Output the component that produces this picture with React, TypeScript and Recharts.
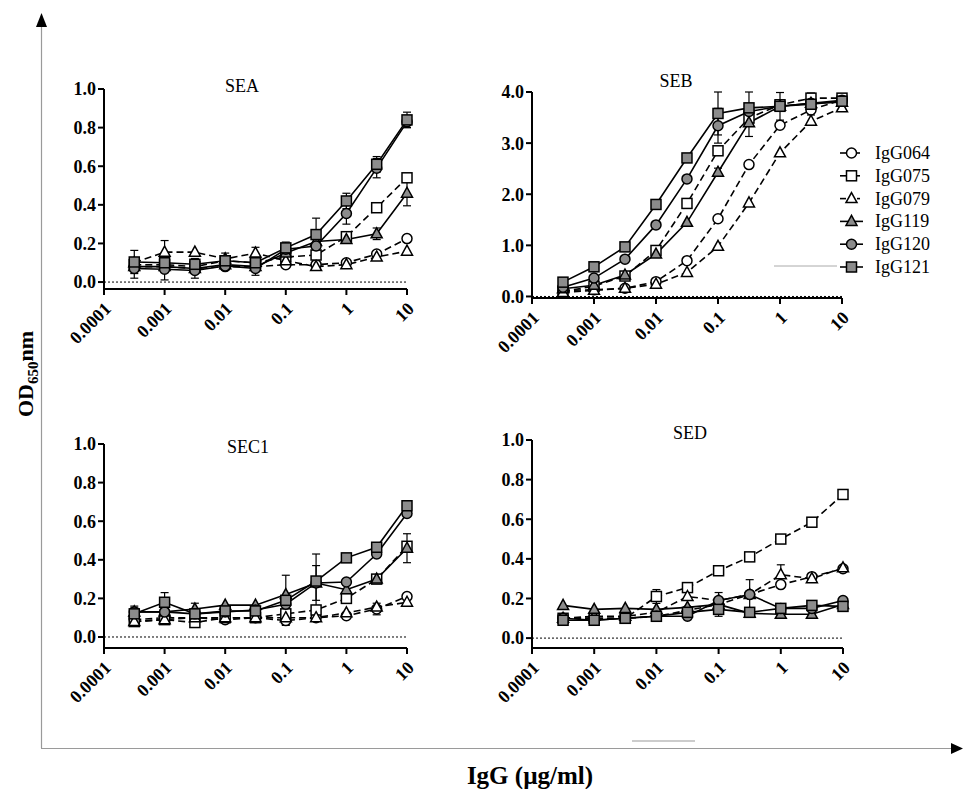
import { LineChart, Line, XAxis, YAxis, ReferenceLine, ErrorBar } from "recharts"

const FONT = '"Liberation Serif", "Times New Roman", serif'
const GREY = "#8c8c8c"

// concentrations in µg/ml, half-log dilution series
const DOSES = [0.000316, 0.001, 0.00316, 0.01, 0.0316, 0.1, 0.316, 1, 3.16, 10]
const X_TICKS = [0.0001, 0.001, 0.01, 0.1, 1, 10]
const Y_TICKS_SMALL = [0, 0.2, 0.4, 0.6, 0.8, 1.0]
const Y_TICKS_SEB = [0, 1, 2, 3, 4]

const SERIES = ["IgG064", "IgG075", "IgG079", "IgG119", "IgG120", "IgG121"]
const SHAPES = ["circle", "square", "triangle", "triangle", "circle", "square"]
const FILLED = [false, false, false, true, true, true]

// rows follow SERIES order
const SEA_VALUES = [
  [0.08, 0.08, 0.07, 0.08, 0.08, 0.09, 0.09, 0.1, 0.145, 0.225],
  [0.09, 0.09, 0.08, 0.11, 0.1, 0.13, 0.14, 0.235, 0.385, 0.54],
  [0.1, 0.155, 0.155, 0.12, 0.15, 0.11, 0.08, 0.09, 0.13, 0.16],
  [0.08, 0.08, 0.07, 0.09, 0.08, 0.15, 0.21, 0.22, 0.25, 0.46],
  [0.07, 0.066, 0.06, 0.083, 0.07, 0.17, 0.187, 0.355, 0.59, 0.83],
  [0.104, 0.1, 0.092, 0.11, 0.1, 0.177, 0.246, 0.42, 0.61, 0.84],
]
const SEA_ERRORS = [
  [0, 0, 0, 0, 0, 0, 0, 0, 0.01, 0.01],
  [0.03, 0, 0, 0, 0, 0, 0, 0, 0, 0.015],
  [0, 0.06, 0, 0, 0.03, 0, 0, 0, 0, 0],
  [0, 0, 0, 0, 0, 0, 0, 0, 0.03, 0.065],
  [0.05, 0.055, 0.04, 0.02, 0.035, 0, 0.08, 0.055, 0.05, 0.03],
  [0.06, 0, 0.03, 0.04, 0, 0.03, 0.085, 0.04, 0.04, 0.04],
]

const SEB_VALUES = [
  [0.12, 0.13, 0.16, 0.29, 0.7, 1.52, 2.58, 3.35, 3.65, 3.85],
  [0.1, 0.2, 0.4, 0.9, 1.82, 2.85, 3.49, 3.75, 3.88, 3.88],
  [0.08, 0.12, 0.16, 0.24, 0.47, 0.98, 1.83, 2.81, 3.43, 3.69],
  [0.15, 0.22, 0.42, 0.83, 1.45, 2.43, 3.4, 3.72, 3.78, 3.8],
  [0.18, 0.36, 0.73, 1.4, 2.3, 3.34, 3.62, 3.72, 3.78, 3.84],
  [0.28, 0.58, 0.97, 1.8, 2.71, 3.58, 3.69, 3.72, 3.76, 3.82],
]
const SEB_ERRORS = [
  [0, 0, 0, 0, 0, 0, 0, 0, 0.1, 0],
  [0, 0, 0, 0, 0, 0, 0.1, 0, 0.1, 0],
  [0, 0, 0, 0, 0, 0, 0, 0, 0, 0],
  [0, 0, 0, 0, 0, 0.08, 0.27, 0, 0, 0],
  [0, 0, 0, 0, 0, 0.34, 0, 0, 0, 0],
  [0, 0, 0, 0, 0, 0.42, 0.31, 0.27, 0.08, 0.06],
]

const SEC1_VALUES = [
  [0.09, 0.1, 0.1, 0.09, 0.1, 0.085, 0.1, 0.11, 0.145, 0.21],
  [0.08, 0.09, 0.075, 0.1, 0.1, 0.12, 0.14, 0.2, 0.3, 0.47],
  [0.08, 0.09, 0.1, 0.1, 0.1, 0.1, 0.1, 0.125, 0.155, 0.18],
  [0.13, 0.13, 0.145, 0.165, 0.165, 0.22, 0.28, 0.245, 0.3, 0.46],
  [0.13, 0.13, 0.12, 0.13, 0.14, 0.17, 0.28, 0.285, 0.43, 0.64],
  [0.12, 0.18, 0.12, 0.135, 0.135, 0.19, 0.29, 0.41, 0.465, 0.68],
]
const SEC1_ERRORS = [
  [0, 0, 0, 0, 0, 0, 0, 0, 0.03, 0],
  [0, 0, 0, 0, 0, 0, 0, 0, 0, 0],
  [0, 0, 0, 0, 0, 0, 0, 0, 0, 0],
  [0, 0, 0.03, 0, 0, 0, 0, 0, 0, 0.075],
  [0.03, 0, 0, 0, 0, 0, 0.09, 0, 0, 0],
  [0.03, 0.05, 0, 0, 0, 0.13, 0.14, 0, 0, 0],
]

const SED_VALUES = [
  [0.1, 0.1, 0.1, 0.11, 0.14, 0.17, 0.22, 0.27, 0.31, 0.35],
  [0.1, 0.1, 0.1, 0.21, 0.255, 0.34, 0.41, 0.5, 0.585, 0.725],
  [0.1, 0.11, 0.11, 0.13, 0.21, 0.19, 0.22, 0.32, 0.3, 0.355],
  [0.165, 0.145, 0.15, 0.145, 0.155, 0.17, 0.125, 0.12, 0.12, 0.17],
  [0.1, 0.09, 0.1, 0.11, 0.11, 0.19, 0.22, 0.15, 0.15, 0.19],
  [0.09, 0.09, 0.1, 0.11, 0.13, 0.145, 0.13, 0.15, 0.165, 0.16],
]
const SED_ERRORS = [
  [0, 0, 0, 0, 0, 0, 0, 0, 0, 0],
  [0, 0, 0, 0.035, 0, 0, 0, 0, 0, 0],
  [0, 0, 0, 0, 0, 0, 0, 0.05, 0, 0],
  [0, 0, 0, 0, 0, 0, 0, 0, 0, 0],
  [0, 0, 0, 0, 0, 0.04, 0.075, 0, 0, 0],
  [0, 0, 0, 0, 0, 0.035, 0, 0, 0, 0],
]

const AXIS_W = 80
const AXIS_H = 75
const PAD_TOP = 40

// box = plot area [left, right, top, bottom] in page pixels
const PANELS = [
  { title: "SEA", values: SEA_VALUES, errors: SEA_ERRORS, yMin: -0.036, yMax: 1, ticks: Y_TICKS_SMALL, box: [104, 407, 89, 289], titleAt: [242, 92] },
  { title: "SEB", values: SEB_VALUES, errors: SEB_ERRORS, yMin: -0.03, yMax: 4, ticks: Y_TICKS_SEB, box: [532, 842, 92, 298], titleAt: [676, 87] },
  { title: "SEC1", values: SEC1_VALUES, errors: SEC1_ERRORS, yMin: -0.057, yMax: 1, ticks: Y_TICKS_SMALL, box: [104, 407, 444, 648], titleAt: [248, 453] },
  { title: "SED", values: SED_VALUES, errors: SED_ERRORS, yMin: -0.05, yMax: 1, ticks: Y_TICKS_SMALL, box: [532, 843, 440, 648], titleAt: [690, 439] },
]

function Marker({ cx, cy, shape, filled }: any) {
  const common = { fill: filled ? GREY : "#fff", stroke: "#000", strokeWidth: 1.5 }
  if (shape === "square") return <rect x={cx - 5} y={cy - 5} width={10} height={10} {...common} />
  if (shape === "triangle")
    return <polygon points={`${cx},${cy - 6} ${cx + 5.5},${cy + 4} ${cx - 5.5},${cy + 4}`} {...common} />
  return <circle cx={cx} cy={cy} r={5} {...common} />
}

function XTick({ x, y, payload }: any) {
  return (
    <text
      transform={`translate(${x + 8},${y + 13}) rotate(-45)`}
      textAnchor="end"
      fontFamily={FONT}
      fontWeight="bold"
      fontSize={18}
      fill="#000"
    >
      {String(payload.value)}
    </text>
  )
}

function Panel({ p }: any) {
  const [x0, x1, y0, y1] = p.box
  const left = x0 - AXIS_W
  const top = y0 - PAD_TOP
  const width = x1 + 20 - left
  const height = y1 - top + AXIS_H
  const rows = DOSES.map((d, i) => {
    const r: any = { dose: d }
    SERIES.forEach((_, s) => {
      r["v" + s] = p.values[s][i]
      r["e" + s] = p.errors[s][i]
    })
    return r
  })

  return (
    <div style={{ position: "absolute", left, top }}>
      <LineChart width={width} height={height} data={rows} margin={{ top: PAD_TOP, right: 20, bottom: 0, left: 0 }}>
        <XAxis
          dataKey="dose"
          type="number"
          scale="log"
          domain={[0.0001, 10]}
          ticks={X_TICKS}
          interval={0}
          height={AXIS_H}
          tick={<XTick />}
          tickSize={6}
          axisLine={{ stroke: "#000", strokeWidth: 2 }}
          tickLine={{ stroke: "#000", strokeWidth: 2 }}
        />
        <YAxis
          type="number"
          domain={[p.yMin, p.yMax]}
          ticks={p.ticks}
          allowDataOverflow
          width={AXIS_W}
          tickSize={6}
          tickFormatter={(v: number) => v.toFixed(1)}
          axisLine={{ stroke: "#000", strokeWidth: 2 }}
          tickLine={{ stroke: "#000", strokeWidth: 2 }}
          tick={{ fill: "#000", fontFamily: FONT, fontWeight: "bold", fontSize: 18 }}
        />
        <ReferenceLine y={0} stroke="#000" strokeWidth={1} strokeDasharray="2 2" />
        {SERIES.map((name, s) => (
          <Line
            key={name}
            dataKey={"v" + s}
            name={name}
            stroke="#000"
            strokeWidth={1.6}
            strokeDasharray={FILLED[s] ? undefined : "7 4"}
            isAnimationActive={false}
            activeDot={false}
            dot={(d: any) => (
              <Marker key={name + d.index} cx={d.cx} cy={d.cy} shape={SHAPES[s]} filled={FILLED[s]} />
            )}
          >
            <ErrorBar dataKey={"e" + s} width={4} stroke="#000" strokeWidth={1.2} direction="y" />
          </Line>
        ))}
      </LineChart>
    </div>
  )
}

function Overlay() {
  return (
    <svg width={963} height={789} style={{ position: "absolute", left: 0, top: 0 }}>
      {/* outer frame axes */}
      <line x1={41.5} y1={26} x2={41.5} y2={748} stroke="#9a9a9a" strokeWidth={1.2} />
      <polygon points="41.5,13 36,27 47,27" fill="#000" />
      <line x1={41} y1={748.5} x2={953} y2={748.5} stroke="#9a9a9a" strokeWidth={1.2} />
      <polygon points="963,748.5 951,743 951,754" fill="#000" />
      <line x1={774} y1={266} x2={837} y2={266} stroke="#aaa" strokeWidth={1} />
      <line x1={632} y1={741} x2={695} y2={741} stroke="#bbb" strokeWidth={1.5} />

      {PANELS.map((p) => (
        <text key={p.title} x={p.titleAt[0]} y={p.titleAt[1]} textAnchor="middle" fontFamily={FONT} fontSize={18} fill="#000">
          {p.title}
        </text>
      ))}

      <text transform="translate(33,374) rotate(-90)" textAnchor="middle" fontFamily={FONT} fontWeight="bold" fontSize={22} fill="#000">
        OD<tspan fontSize={15} dy={5}>650</tspan>
        <tspan dy={-5}>nm</tspan>
      </text>
      <text x={530} y={784} textAnchor="middle" fontFamily={FONT} fontWeight="bold" fontSize={25} fill="#000">
        IgG (µg/ml)
      </text>

      {SERIES.map((name, s) => {
        const y = 153 + s * 22.8
        return (
          <g key={name}>
            {FILLED[s] ? (
              <line x1={840} y1={y} x2={863} y2={y} stroke="#000" strokeWidth={1.6} />
            ) : (
              <>
                <line x1={840} y1={y} x2={846} y2={y} stroke="#000" strokeWidth={1.6} />
                <line x1={857} y1={y} x2={860} y2={y} stroke="#000" strokeWidth={1.6} />
              </>
            )}
            <Marker cx={851.5} cy={y} shape={SHAPES[s]} filled={FILLED[s]} />
            <text x={875} y={y + 6} fontFamily={FONT} fontSize={18} fill="#000">
              {name}
            </text>
          </g>
        )
      })}
    </svg>
  )
}

export default function App() {
  return (
    <div style={{ position: "absolute", left: 0, top: 0, width: 963, height: 789, background: "#fff" }}>
      <Overlay />
      {PANELS.map((p) => (
        <Panel key={p.title} p={p} />
      ))}
    </div>
  )
}
